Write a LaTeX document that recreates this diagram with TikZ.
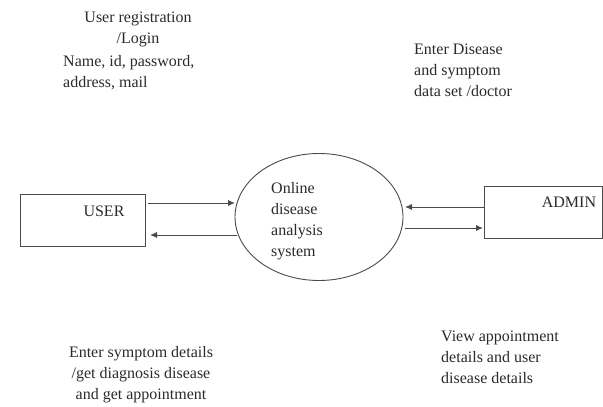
\documentclass[tikz,border=0pt]{standalone}
\usepackage{fontspec}
\setmainfont{Liberation Serif}
\usepackage{xcolor}
\usetikzlibrary{positioning, calc, shapes.geometric, arrows.meta}
\definecolor{inkgray}{HTML}{2A2A2A}
\definecolor{linegray}{HTML}{4A4A4A}

\begin{document}
\begin{tikzpicture}[
    x=1pt, y=-1pt,
    entity/.style={draw=linegray, line width=0.9pt, minimum width=125pt, minimum height=52pt,
                   inner sep=0pt, outer sep=0pt},
    process/.style={ellipse, draw=linegray, line width=0.9pt, minimum width=168pt,
                    minimum height=127pt, inner sep=0pt, outer sep=0pt},
    note/.style={font=\fontsize{16}{21}\selectfont, text=inkgray, inner sep=0pt},
    flow/.style={draw=linegray, line width=0.9pt, -{Latex[length=7pt, width=6pt]}},
  ]
  \useasboundingbox (0,0) rectangle (603,407);

  % --- entities and process ---
  \node[entity] (user) at (82.5,220) {};
  \node[note] (userlbl) at (104,211) {USER};
  \node[entity, minimum width=118pt] (admin) at (543,212) {};
  \node[note] (adminlbl) at (569,202) {ADMIN};
  \node[process] (sys) at (319,217) {};
  \node[note, align=left, anchor=north west] (systxt) at (271,182)
    {Online\\disease\\analysis\\system};

  % --- data flows ---
  \coordinate (u1) at ($(user.east)+(3,-17)$);
  \coordinate (u2) at ($(user.east)+(5,15)$);
  \coordinate (a1) at ($(admin.west)+(0,-5)$);
  \coordinate (a2) at ($(admin.west)+(-1,16)$);
  \draw[flow] (u1) -- (u1 -| sys.west);
  \draw[flow] ($(u2 -| sys.west)+(2,0)$) -- (u2);
  \draw[flow] (a1) -- ($(a1 -| sys.east)+(2,0)$);
  \draw[flow] ($(a2 -| sys.east)+(2,0)$) -- (a2);

  % --- flow notes ---
  \node[note, align=center, anchor=north] (regtxt) at (138,12)
    {User registration\\/Login};
  \node[note, align=left, anchor=north west] (fieldtxt) at (63,55)
    {Name, id, password,\\address, mail};
  \node[note, align=left, anchor=north west] (datatxt) at (414,44)
    {Enter Disease\\and symptom\\data set /doctor};
  \node[note, align=center, anchor=north] (symtxt) at (141,346)
    {Enter symptom details\\/get diagnosis disease\\and get appointment};
  \node[note, align=left, anchor=north west] (viewtxt) at (441,331)
    {View appointment\\details and user\\disease details};

\end{tikzpicture}
\end{document}
